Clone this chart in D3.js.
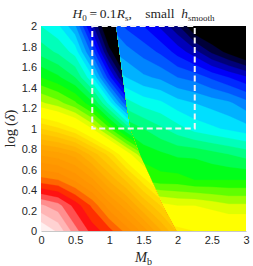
<!DOCTYPE html>
<html>
<head>
<meta charset="utf-8">
<script src="https://d3js.org/d3.v7.min.js"></script>
<style>
body { margin: 0; background: #fff; }
.axis text { font: 11px "Liberation Sans", Arial, sans-serif; fill: #262626; }
.lbl { font-family: "Liberation Serif", "DejaVu Serif", serif; fill: #262626; }
</style>
</head>
<body>
<svg id="chart" width="253" height="266"></svg>
<script>
// grid positions (M_b columns, log delta rows, bottom to top)
var leftX  = [0, 0.25, 0.5, 0.75, 1, 1.25, 1.5, 1.75, 2];
var rightX = [1, 1.25, 1.5, 1.75, 2, 2.25, 2.5, 2.75, 3];
var rowY   = [0, 0.25, 0.5, 0.75, 1, 1.25, 1.5, 1.75, 2];

// values left of the jump (one row per rowY entry)
var leftVals = [
  [0.00, 0.03, 0.09, 0.135, 0.165, 0.21, 0.26, 0.32, 0.38],
  [0.07, 0.09, 0.135, 0.18, 0.24, 0.29, 0.35, 0.40, 0.45],
  [0.19, 0.20, 0.23, 0.27, 0.33, 0.38, 0.44, 0.50, 0.55],
  [0.28, 0.29, 0.31, 0.36, 0.41, 0.48, 0.55, 0.62, 0.68],
  [0.40, 0.42, 0.45, 0.50, 0.57, 0.65, 0.73, 0.80, 0.85],
  [0.52, 0.54, 0.57, 0.62, 0.71, 0.82, 0.90, 0.95, 0.97],
  [0.60, 0.62, 0.65, 0.72, 0.84, 0.95, 1.00, 1.00, 1.00],
  [0.66, 0.68, 0.71, 0.81, 0.94, 1.00, 1.00, 1.00, 1.00],
  [0.70, 0.72, 0.77, 0.89, 1.00, 1.00, 1.00, 1.00, 1.00]
];

// values right of the jump
var rightVals = [
  [0.40, 0.41, 0.42, 0.43, 0.44, 0.45, 0.45, 0.46, 0.46],
  [0.46, 0.47, 0.48, 0.49, 0.50, 0.50, 0.51, 0.52, 0.52],
  [0.54, 0.56, 0.58, 0.59, 0.59, 0.60, 0.60, 0.60, 0.60],
  [0.57, 0.59, 0.61, 0.62, 0.63, 0.63, 0.64, 0.65, 0.66],
  [0.60, 0.63, 0.65, 0.67, 0.69, 0.71, 0.72, 0.73, 0.74],
  [0.67, 0.69, 0.71, 0.72, 0.74, 0.75, 0.76, 0.77, 0.79],
  [0.73, 0.75, 0.77, 0.78, 0.80, 0.81, 0.83, 0.85, 0.87],
  [0.77, 0.79, 0.81, 0.83, 0.86, 0.89, 0.93, 0.96, 0.99],
  [0.80, 0.83, 0.85, 0.88, 0.92, 0.98, 1.00, 1.00, 1.00]
];

// the jump curve
var curveY = [0, 0.25, 0.5, 0.75, 1, 1.25, 1.5, 1.75, 2];
var curveX = [1.99, 1.79, 1.62, 1.45, 1.31, 1.25, 1.20, 1.15, 1.10];

// dashed box
var boxX = [0.75, 2.25];
var boxY = [1, 2];

var xTicks = [0, 0.5, 1, 1.5, 2, 2.5, 3];
var yTicks = [0, 0.2, 0.4, 0.6, 0.8, 1, 1.2, 1.4, 1.6, 1.8, 2];

var cmapStops  = [0, 0.08, 0.145, 0.175, 0.21, 0.32, 0.4, 0.46, 0.5, 0.6, 0.72, 0.86, 0.96];
var cmapColors = ["#ffffff", "#ffa0a0", "#ff0000", "#ff5000", "#ff8c00", "#ffaa00", "#ffd200", "#ffff00", "#ffff00", "#00ff00", "#00ffff", "#0000ff", "#000000"];

var margin = {top: 26, right: 7, bottom: 35, left: 41},
    width = 253 - margin.left - margin.right,
    height = 266 - margin.top - margin.bottom;

var x = d3.scaleLinear().domain([0, 3]).range([0, width]);
var y = d3.scaleLinear().domain([0, 2]).range([height, 0]);
var color = d3.scaleLinear().domain(cmapStops).range(cmapColors).clamp(true);

var levels = d3.range(0, 1.0001, 0.025);

var svg = d3.select("#chart").append("g")
    .attr("transform", "translate(" + margin.left + "," + margin.top + ")");

var defs = svg.append("defs");
defs.append("clipPath").attr("id", "plotclip")
  .append("rect").attr("width", width).attr("height", height);

var line = d3.line().x(function(d) { return x(d[0]); }).y(function(d) { return y(d[1]); });
var curve = curveY.map(function(v, i) { return [curveX[i], v]; });

defs.append("clipPath").attr("id", "leftclip")
  .append("path").attr("d", line([[0, 0]].concat(curve, [[0, 2]])) + "Z");
defs.append("clipPath").attr("id", "rightclip")
  .append("path").attr("d", line([[3, 0]].concat(curve, [[3, 2]])) + "Z");

function drawField(cols, vals, clipId) {
  var nx = cols.length, ny = rowY.length;
  var flat = [];
  vals.forEach(function(r) { flat = flat.concat(r); });
  var dx = cols[1] - cols[0], dy = rowY[1] - rowY[0];
  var proj = d3.geoTransform({
    point: function(cx, cy) {
      this.stream.point(x(cols[0] + (cx - 0.5) * dx), y(rowY[0] + (cy - 0.5) * dy));
    }
  });
  var path = d3.geoPath(proj);
  var cont = d3.contours().size([nx, ny]).thresholds(levels)(flat);
  svg.append("g").attr("clip-path", "url(#plotclip)")
    .append("g").attr("clip-path", "url(#" + clipId + ")")
    .selectAll("path").data(cont).enter().append("path")
      .attr("d", path)
      .attr("fill-rule", "evenodd")
      .attr("fill", function(d) { return color(d.value + 0.0125); })
      .attr("stroke", function(d) { return color(d.value + 0.0125); })
      .attr("stroke-width", 0.3);
}

drawField(leftX, leftVals, "leftclip");
drawField(rightX, rightVals, "rightclip");

// dashed box
svg.append("rect")
  .attr("x", x(boxX[0])).attr("y", y(boxY[1]))
  .attr("width", x(boxX[1]) - x(boxX[0]))
  .attr("height", y(boxY[0]) - y(boxY[1]))
  .attr("fill", "none")
  .attr("stroke", "#f4f4f4")
  .attr("stroke-width", 2)
  .attr("stroke-dasharray", "6,3.5");

// axes
var xAxis = svg.append("g").attr("class", "axis")
  .attr("transform", "translate(0," + height + ")")
  .call(d3.axisBottom(x).tickValues(xTicks).tickFormat(d3.format("")).tickSize(0).tickPadding(5));
xAxis.select(".domain").attr("stroke", "#c8c8c8");

var yAxis = svg.append("g").attr("class", "axis")
  .call(d3.axisLeft(y).tickValues(yTicks).tickFormat(d3.format("")).tickSize(0).tickPadding(4));
yAxis.select(".domain").remove();

// title
var title = d3.select("#chart").append("text").attr("class", "lbl")
  .attr("x", margin.left + width / 2).attr("y", 18)
  .attr("text-anchor", "middle").attr("font-size", 13.5);
title.append("tspan").attr("font-style", "italic").text("H");
title.append("tspan").attr("font-size", 9).attr("dy", 3).text("0");
title.append("tspan").attr("dy", -3).text("\u2009=\u20090.1");
title.append("tspan").attr("font-style", "italic").text("R");
title.append("tspan").attr("font-size", 9).attr("dy", 3).text("s");
title.append("tspan").attr("dy", -3).text(",\u2002\u2002small\u2002");
title.append("tspan").attr("font-style", "italic").text("h");
title.append("tspan").attr("font-size", 9).attr("dy", 3).text("smooth");

// x label
var xl = d3.select("#chart").append("text").attr("class", "lbl")
  .attr("x", margin.left + width / 2).attr("y", 262)
  .attr("text-anchor", "middle").attr("font-size", 14.5);
xl.append("tspan").attr("font-style", "italic").text("M");
xl.append("tspan").attr("font-size", 10).attr("dy", 3).text("b");

// y label
var yl = d3.select("#chart").append("text").attr("class", "lbl")
  .attr("transform", "translate(15," + (margin.top + height / 2) + ") rotate(-90)")
  .attr("text-anchor", "middle").attr("font-size", 14.5);
yl.append("tspan").text("log\u2009(");
yl.append("tspan").attr("font-style", "italic").text("\u03b4");
yl.append("tspan").text(")");
</script>
</body>
</html>
